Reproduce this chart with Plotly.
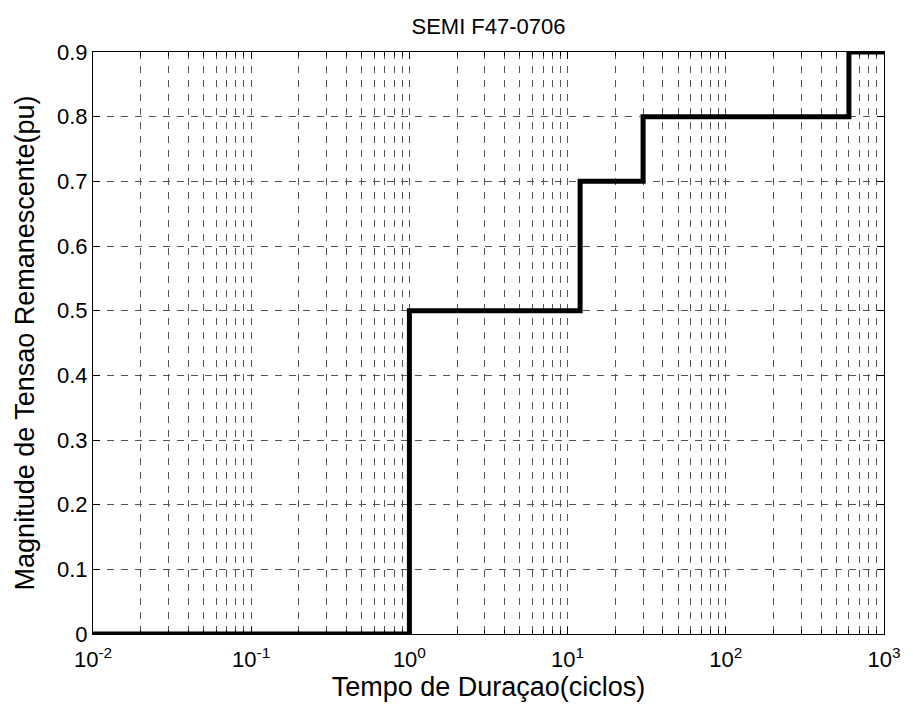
import plotly.graph_objects as go

# Data (duration in cycles, remaining voltage magnitude in pu)
duration = [0.01, 1, 12, 30, 600, 1000]
magnitude = [0, 0.5, 0.7, 0.8, 0.9, 0.9]

x_major = [0.01, 0.1, 1, 10, 100, 1000]
x_major_text = ["10<sup>-2</sup>", "10<sup>-1</sup>", "10<sup>0</sup>",
                "10<sup>1</sup>", "10<sup>2</sup>", "10<sup>3</sup>"]
x_minor = [m * d for d in [0.01, 0.1, 1, 10, 100] for m in range(2, 10)]
y_ticks = [0, 0.1, 0.2, 0.3, 0.4, 0.5, 0.6, 0.7, 0.8, 0.9]
y_text = ["0", "0.1", "0.2", "0.3", "0.4", "0.5", "0.6", "0.7", "0.8", "0.9"]

font_family = "Liberation Sans, Arial, sans-serif"
grid_col = "#555555"

fig = go.Figure()
fig.add_trace(go.Scatter(
    x=duration, y=magnitude, mode="lines",
    line=dict(color="black", width=5, shape="hv"),
    showlegend=False, hoverinfo="skip",
))

fig.update_layout(
    width=913, height=709,
    margin=dict(l=93, r=20, t=52, b=75),
    paper_bgcolor="white", plot_bgcolor="white",
    font=dict(family=font_family, color="black", size=22),
    title=dict(text="SEMI F47-0706", x=0.5, xref="paper", xanchor="center",
               y=1 - 26 / 709, yanchor="middle", yref="container",
               font=dict(size=22, family=font_family, color="black")),
)

fig.update_xaxes(
    type="log", range=[-2, 3],
    tickmode="array", tickvals=x_major, ticktext=x_major_text,
    ticks="inside", ticklen=7, tickcolor="black", tickwidth=1,
    ticklabelstandoff=6,
    showgrid=True, gridcolor=grid_col, gridwidth=1, griddash="7px,7px",
    minor=dict(tickmode="array", tickvals=x_minor, ticks="inside", ticklen=4,
               tickcolor="black", showgrid=True, gridcolor=grid_col,
               gridwidth=1, griddash="7px,7px"),
    showline=True, linecolor="black", linewidth=1, mirror="ticks",
    zeroline=False,
    tickfont=dict(size=22),
    title=dict(text="Tempo de Duraçao(ciclos)", font=dict(size=27), standoff=2),
)
fig.update_yaxes(
    range=[0, 0.9],
    tickmode="array", tickvals=y_ticks, ticktext=y_text,
    ticks="inside", ticklen=7, tickcolor="black", tickwidth=1,
    showgrid=True, gridcolor=grid_col, gridwidth=1, griddash="7px,7px",
    showline=True, linecolor="black", linewidth=1, mirror="ticks",
    zeroline=False,
    tickfont=dict(size=22),
    title=dict(text="Magnitude de Tensao Remanescente(pu)", font=dict(size=27), standoff=14),
)

fig.write_html("out.html")
